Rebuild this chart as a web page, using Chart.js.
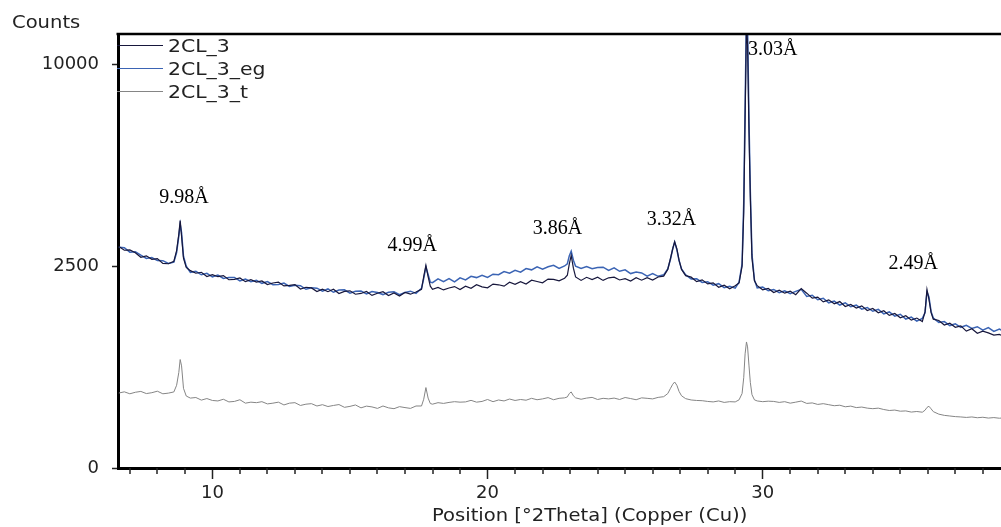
<!DOCTYPE html>
<html>
<head>
<meta charset="utf-8">
<style>
html, body { margin: 0; padding: 0; background: #fff; overflow: hidden; }
#wrap { width: 1001px; height: 527px; }
</style>
<script src="https://cdn.jsdelivr.net/npm/chart.js@4.4.1/dist/chart.umd.min.js"></script>
</head>
<body>
<div id="wrap"><canvas id="xrd" width="1001" height="527"></canvas></div>
<script>
// 2theta positions (degrees), shared by all three scans
const positions = [
    6.6, 6.8, 7.0, 7.2, 7.4, 7.6, 7.8, 8.0, 8.2, 8.4,
    8.6, 8.7, 8.78, 8.83, 8.88, 8.95, 9.05, 9.2, 9.4, 9.6,
    9.8, 10.0, 10.2, 10.4, 10.6, 10.8, 11.0, 11.2, 11.4, 11.6,
    11.8, 12.0, 12.2, 12.4, 12.6, 12.8, 13.0, 13.2, 13.4, 13.6,
    13.8, 14.0, 14.2, 14.4, 14.6, 14.8, 15.0, 15.2, 15.4, 15.6,
    15.8, 16.0, 16.2, 16.4, 16.6, 16.8, 17.0, 17.2, 17.4, 17.6,
    17.68, 17.76, 17.84, 17.92, 18.0, 18.2, 18.4, 18.6, 18.8, 19.0,
    19.2, 19.4, 19.6, 19.8, 20.0, 20.2, 20.4, 20.6, 20.8, 21.0,
    21.2, 21.4, 21.6, 21.8, 22.0, 22.2, 22.4, 22.6, 22.8, 22.9,
    22.97, 23.04, 23.12, 23.2, 23.4, 23.6, 23.8, 24.0, 24.2, 24.4,
    24.6, 24.8, 25.0, 25.2, 25.4, 25.6, 25.8, 26.0, 26.2, 26.4,
    26.55, 26.65, 26.73, 26.8, 26.88, 26.96, 27.05, 27.2, 27.4, 27.6,
    27.8, 28.0, 28.2, 28.4, 28.6, 28.8, 29.0, 29.14, 29.25, 29.31,
    29.36, 29.41, 29.45, 29.5, 29.55, 29.61, 29.7, 29.8, 30.0, 30.2,
    30.4, 30.6, 30.8, 31.0, 31.2, 31.4, 31.6, 31.8, 32.0, 32.2,
    32.4, 32.6, 32.8, 33.0, 33.2, 33.4, 33.6, 33.8, 34.0, 34.2,
    34.4, 34.6, 34.8, 35.0, 35.2, 35.4, 35.6, 35.8, 35.9, 35.97,
    36.04, 36.12, 36.2, 36.4, 36.6, 36.8, 37.0, 37.2, 37.4, 37.6,
    37.8, 38.0, 38.2, 38.4, 38.6, 38.8
];

// counts for 2CL_3
const scan2CL3 = [
    3010, 2910, 2920, 2845, 2725, 2762, 2674, 2691, 2568, 2560,
    2620, 2900, 3350, 3760, 3300, 2700, 2470, 2390, 2328, 2351,
    2250, 2293, 2246, 2272, 2175, 2184, 2218, 2131, 2175, 2123,
    2148, 2064, 2101, 2122, 2034, 2045, 2065, 1965, 2005, 1990,
    1910, 1961, 1908, 1960, 1867, 1914, 1926, 1853, 1870, 1911,
    1828, 1874, 1906, 1827, 1879, 1815, 1892, 1854, 1901, 1960,
    2250, 2522, 2250, 2030, 1960, 2000, 1946, 1988, 2020, 1954,
    2028, 1981, 2060, 2014, 1993, 2076, 2060, 2029, 2117, 2071,
    2130, 2078, 2165, 2135, 2105, 2190, 2185, 2150, 2210, 2280,
    2550, 2772, 2450, 2240, 2160, 2232, 2180, 2233, 2160, 2220,
    2235, 2170, 2199, 2144, 2223, 2165, 2225, 2170, 2240, 2260,
    2420, 2700, 2950, 3137, 2950, 2650, 2420, 2270, 2235, 2132,
    2173, 2080, 2105, 2005, 2050, 1970, 2040, 2100, 2500, 4000,
    7500, 12000, 11000, 7000, 4500, 2700, 2150, 2040, 1949, 1978,
    1891, 1940, 1876, 1918, 1844, 1975, 1876, 1772, 1793, 1694,
    1735, 1655, 1700, 1600, 1640, 1570, 1614, 1521, 1563, 1480,
    1518, 1430, 1466, 1386, 1422, 1342, 1380, 1315, 1500, 1954,
    1750, 1480, 1360, 1335, 1254, 1287, 1215, 1240, 1150, 1190,
    1115, 1150, 1120, 1085, 1095, 1060
];

// counts for 2CL_3_eg (glycolated)
const scan2CL3eg = [
    2990, 2980, 2860, 2870, 2780, 2697, 2719, 2641, 2638, 2570,
    2600, 2850, 3300, 3650, 3400, 2750, 2500, 2350, 2373, 2291,
    2325, 2243, 2286, 2207, 2230, 2229, 2148, 2191, 2130, 2163,
    2093, 2134, 2061, 2067, 2099, 2025, 2050, 2040, 1960, 1995,
    1985, 1921, 1968, 1895, 1942, 1949, 1876, 1918, 1920, 1861,
    1913, 1889, 1846, 1897, 1904, 1845, 1892, 1919, 1871, 1980,
    2200, 2480, 2300, 2120, 2110, 2195, 2130, 2200, 2125, 2220,
    2170, 2255, 2225, 2280, 2230, 2305, 2295, 2370, 2330, 2400,
    2355, 2440, 2410, 2485, 2425, 2485, 2520, 2445, 2505, 2560,
    2760, 2884, 2650, 2500, 2445, 2490, 2435, 2465, 2475, 2395,
    2460, 2375, 2410, 2320, 2355, 2335, 2260, 2320, 2255, 2290,
    2430, 2680, 2950, 3137, 2920, 2640, 2430, 2290, 2195, 2197,
    2113, 2130, 2050, 2085, 1995, 2025, 1985, 2120, 2550, 4300,
    8000, 12800, 12000, 7500, 4700, 2800, 2170, 1990, 2009, 1928,
    1956, 1885, 1926, 1863, 1914, 1960, 1806, 1832, 1738, 1769,
    1675, 1710, 1630, 1675, 1595, 1630, 1549, 1581, 1508, 1545,
    1458, 1495, 1416, 1451, 1362, 1397, 1325, 1375, 1480, 1900,
    1800, 1500, 1380, 1300, 1315, 1245, 1275, 1215, 1250, 1195,
    1225, 1165, 1210, 1145, 1185, 1135
];

// counts for 2CL_3_t (heated)
const scan2CL3t = [
    345, 356, 338, 352, 360, 340, 348, 362, 338, 344,
    355, 420, 560, 722, 640, 390, 318, 300, 305, 283,
    296, 280, 276, 290, 268, 272, 286, 258, 266, 262,
    270, 252, 258, 266, 244, 258, 262, 240, 250, 254,
    236, 246, 232, 240, 247, 226, 233, 244, 222, 235,
    229, 218, 236, 222, 216, 231, 224, 218, 236, 236,
    290, 397, 300, 255, 250, 262, 256, 264, 270, 266,
    268, 281, 266, 272, 288, 270, 284, 276, 292, 280,
    288, 282, 298, 286, 293, 304, 286, 298, 302, 310,
    340, 355, 320, 302, 290, 300, 306, 288, 298, 293,
    300, 288, 305, 296, 286, 302, 298, 293, 306, 312,
    340, 390, 430, 454, 420, 360, 320, 295, 284, 280,
    278, 272, 268, 276, 264, 270, 268, 285, 340, 500,
    800, 975, 900, 650, 450, 330, 285, 276, 270, 274,
    272, 264, 270, 258, 266, 275, 256, 260, 248, 254,
    246, 238, 242, 230, 235, 224, 228, 220, 216, 220,
    210, 203, 206, 198, 200, 192, 196, 191, 205, 225,
    234, 215, 195, 178, 170, 166, 162, 160, 157, 160,
    155, 158, 153, 156, 152, 155
];

const seriesNames = ['2CL_3', '2CL_3_eg', '2CL_3_t'];
const yTicks = [0, 2500, 10000];
const xMajorTicks = [10, 20, 30];

// d-spacing labels, anchored in data units (degrees, counts)
const peakLabels = ['9.98Å', '4.99Å', '3.86Å', '3.32Å', '3.03Å', '2.49Å'];
const peakLabelAt = [8.97, 17.26, 22.54, 26.68, 30.36, 35.47];
const peakLabelCounts = [4303, 2884, 3354, 3618, 10460, 2425];

const colors = ['#17173c', '#3b64b4', '#858585'];
const widths = [1.2, 1.5, 1];

// square-root intensity axis, as used by the diffractometer software
class SqrtScale extends Chart.LinearScale {
    getPixelForValue(value) {
        const lo = Math.sqrt(this.min), hi = Math.sqrt(this.max);
        return this.getPixelForDecimal((Math.sqrt(Math.max(value, 0)) - lo) / (hi - lo));
    }
    getValueForPixel(pixel) {
        const lo = Math.sqrt(this.min), hi = Math.sqrt(this.max);
        const s = lo + this.getDecimalForPixel(pixel) * (hi - lo);
        return s * s;
    }
}
SqrtScale.id = 'sqrt';
SqrtScale.defaults = Chart.LinearScale.defaults;
Chart.register(SqrtScale);

Chart.defaults.font.family = '"DejaVu Sans", sans-serif';
Chart.defaults.color = '#222';

function wideText(ctx, text, x, y, sx) {
    ctx.save();
    ctx.translate(x, y);
    ctx.scale(sx, 1);
    ctx.fillText(text, 0, 0);
    ctx.restore();
}

const overlay = {
    id: 'overlay',
    beforeDatasetsDraw(chart) {
        const { ctx, scales: { x, y } } = chart;
        ctx.save();
        ctx.font = '20px "Liberation Serif", serif';
        ctx.fillStyle = '#000';
        ctx.textAlign = 'center';
        ctx.textBaseline = 'alphabetic';
        peakLabels.forEach((t, i) => {
            ctx.fillText(t, x.getPixelForValue(peakLabelAt[i]), y.getPixelForValue(peakLabelCounts[i]));
        });
        ctx.restore();
    },
    afterDraw(chart) {
        const { ctx, chartArea: a, scales: { x } } = chart;
        ctx.save();
        // frame top
        ctx.strokeStyle = '#000';
        ctx.lineWidth = 2.5;
        ctx.beginPath();
        ctx.moveTo(a.left - 1.5, a.top);
        ctx.lineTo(a.right, a.top);
        ctx.stroke();

        // minor ticks on the 2theta axis
        ctx.strokeStyle = '#222';
        ctx.lineWidth = 1.5;
        x.ticks.forEach(t => {
            if (xMajorTicks.includes(t.value)) return;
            const px = Math.round(x.getPixelForValue(t.value));
            ctx.beginPath();
            ctx.moveTo(px, a.bottom);
            ctx.lineTo(px, a.bottom + 6);
            ctx.stroke();
        });

        // legend
        ctx.font = '17px "DejaVu Sans", sans-serif';
        ctx.fillStyle = '#222';
        ctx.textBaseline = 'alphabetic';
        ctx.textAlign = 'left';
        seriesNames.forEach((name, i) => {
            const ly = 45.5 + i * 23;
            ctx.strokeStyle = colors[i];
            ctx.lineWidth = 1.2;
            ctx.beginPath();
            ctx.moveTo(a.left - 1, ly);
            ctx.lineTo(a.left + 45, ly);
            ctx.stroke();
            wideText(ctx, name, a.left + 50, ly + 6.5, 1.2);
        });

        // axis titles
        wideText(ctx, 'Counts', 12, 28, 1.15);
        wideText(ctx, 'Position [°2Theta] (Copper (Cu))', 432, 521, 1.15);
        ctx.restore();
    }
};

const datasets = [scan2CL3, scan2CL3eg, scan2CL3t].map((vals, i) => ({
    label: seriesNames[i],
    data: positions.map((p, j) => ({ x: p, y: vals[j] })),
    borderColor: colors[i],
    borderWidth: widths[i],
    pointRadius: 0,
    tension: 0,
    fill: false
}));

new Chart(document.getElementById('xrd'), {
    type: 'line',
    data: { datasets },
    plugins: [overlay],
    options: {
        responsive: false,
        devicePixelRatio: 1,
        animation: false,
        layout: { padding: { top: 34, right: 0, left: 0, bottom: 0 } },
        plugins: { legend: { display: false }, tooltip: { enabled: false } },
        scales: {
            x: {
                type: 'linear',
                min: 6.57,
                max: 38.66,
                afterBuildTicks: s => {
                    const t = [];
                    for (let v = Math.ceil(s.min); v <= Math.floor(s.max); v++) t.push({ value: v });
                    s.ticks = t;
                },
                afterFit: s => { s.height = 59; },
                border: { display: true, width: 3, color: '#000' },
                grid: {
                    drawOnChartArea: false,
                    tickLength: 11,
                    tickWidth: 1.5,
                    tickColor: c => xMajorTicks.includes(c.tick.value) ? '#222' : 'rgba(0,0,0,0)'
                },
                ticks: {
                    autoSkip: false,
                    maxRotation: 0,
                    padding: 4,
                    font: { size: 18 },
                    color: '#222',
                    callback: v => xMajorTicks.includes(v) ? String(v) : ''
                }
            },
            y: {
                type: 'sqrt',
                min: 0,
                max: 11560,
                afterBuildTicks: s => { s.ticks = yTicks.map(v => ({ value: v })); },
                afterFit: s => { s.width = 118; },
                border: { display: true, width: 3, color: '#000' },
                grid: { drawOnChartArea: false, tickLength: 6, tickWidth: 1.5, tickColor: '#222' },
                ticks: {
                    padding: 13,
                    font: { size: 18 },
                    color: '#222',
                    callback: v => String(v)
                }
            }
        }
    }
});
</script>
</body>
</html>
